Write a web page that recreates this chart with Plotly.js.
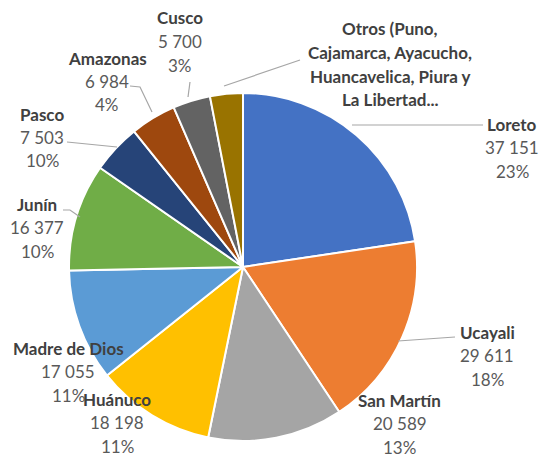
<!DOCTYPE html>
<html>
<head>
<meta charset="utf-8">
<script src="https://cdn.plot.ly/plotly-3.0.1.min.js"></script>
<style>html,body{margin:0;padding:0;background:#fff;}#chart{width:539px;height:459px;}</style>
</head>
<body>
<div id="chart"></div>
<script>
// ---- data ----
var categories = ["Loreto", "Ucayali", "San Martín", "Huánuco", "Madre de Dios", "Junín", "Pasco", "Amazonas", "Cusco", "Otros"];
var values = [37151, 29611, 20589, 18198, 17055, 16377, 7503, 6984, 5700, 5000];
var valueLabels = ["37 151", "29 611", "20 589", "18 198", "17 055", "16 377", "7 503", "6 984", "5 700", ""];
var pctLabels = ["23%", "18%", "13%", "11%", "11%", "10%", "10%", "4%", "3%", ""];
var nameLabels = ["Loreto", "Ucayali", "San Martín", "Huánuco", "Madre de Dios", "Junín", "Pasco", "Amazonas", "Cusco",
  "Otros (Puno,|Cajamarca, Ayacucho,|Huancavelica, Piura y|La Libertad..."];
var colors = ["#4472C4", "#ED7D31", "#A5A5A5", "#FFC000", "#5B9BD5", "#70AD47", "#264478", "#9E480E", "#636363", "#997300"];

// ---- layout helpers (pixel positions of labels) ----
var W = 539, H = 459;
var labelPos = [
  [512, 124], [487, 332], [400, 400], [117, 399], [68, 348],
  [37, 204], [42, 114], [107, 58], [180, 18], [390, 29]
];
var LINE = 23.5;
var leaders = [
  [[352,125],[483,125]],
  [[398,341],[455,337]],
  null, null, null,
  [[63,210],[70,210],[80,217]],
  [[67,142],[117,147]],
  [[130,86],[140,87],[152,112]],
  [[190,82],[188,97]],
  [[224,86],[300,60]]
];
function px(x){return x/W;}
function py(y){return 1-y/H;}

var annotations = [];
var FONT = "Lato, 'Open Sans', sans-serif";
for (var i = 0; i < categories.length; i++) {
  var lines = [];
  nameLabels[i].split("|").forEach(function(t){ lines.push({t:t, bold:true}); });
  if (valueLabels[i]) lines.push({t:valueLabels[i], bold:false});
  if (pctLabels[i]) lines.push({t:pctLabels[i], bold:false});
  for (var j = 0; j < lines.length; j++) {
    annotations.push({
      xref: "paper", yref: "paper",
      x: px(labelPos[i][0]), y: py(labelPos[i][1] + j*LINE),
      xanchor: "center", yanchor: "middle",
      text: lines[j].bold ? "<b>" + lines[j].t + "</b>" : lines[j].t,
      showarrow: false,
      font: {family: FONT, size: 17, color: lines[j].bold ? "#404040" : "#595959"}
    });
  }
}
var shapes = [];
leaders.forEach(function(l){
  if (!l) return;
  var d = "M" + l.map(function(p){return px(p[0]) + "," + py(p[1]);}).join(" L");
  shapes.push({type:"path", xref:"paper", yref:"paper", path:d, line:{color:"#A6A6A6", width:1.2}});
});

var cx = 243, cy = 267, R = 174;
var trace = {
  type: "pie",
  labels: categories,
  values: values,
  sort: false,
  direction: "clockwise",
  rotation: 0,
  textinfo: "none",
  hoverinfo: "none",
  marker: {colors: colors, line: {color: "#FFFFFF", width: 2}},
  domain: {x: [px(cx - R), px(cx + R)], y: [py(cy + R), py(cy - R)]}
};

Plotly.newPlot("chart", [trace], {
  width: W, height: H,
  margin: {l:0, r:0, t:0, b:0},
  showlegend: false,
  paper_bgcolor: "#FFFFFF",
  annotations: annotations,
  shapes: shapes
}, {staticPlot: true});
</script>
</body>
</html>
